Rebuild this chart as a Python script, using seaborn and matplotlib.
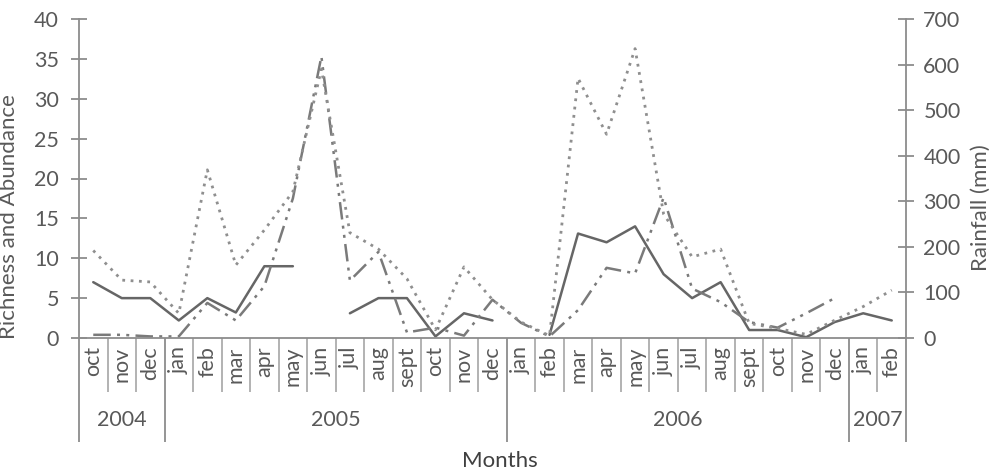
import numpy as np
import pandas as pd
import matplotlib
matplotlib.use("Agg")
import matplotlib.pyplot as plt
import seaborn as sns

# month / year categories (oct 2004 - feb 2007)
months = ["oct", "nov", "dec",
          "jan", "feb", "mar", "apr", "may", "jun", "jul", "aug", "sept", "oct", "nov", "dec",
          "jan", "feb", "mar", "apr", "may", "jun", "jul", "aug", "sept", "oct", "nov", "dec",
          "jan", "feb"]
years = ["2004"] * 3 + ["2005"] * 12 + ["2006"] * 12 + ["2007"] * 2

nan = np.nan
# solid line (left axis)
richness = [7, 5, 5, 2.2, 5, 3.2, 9, 9, nan, 3.1, 5, 5, 0.2, 3.1, 2.2,
            nan, 0.4, 13.1, 12, 14, 8, 5, 7, 1, 1, 0.1, 2, 3.1, 2.2]
# dash-dot line (left axis)
abundance = [0.4, 0.4, 0.2, 0.2, 4.4, 2.2, 6.5, 17.5, 35.3, 7.2, 10.8, 0.7, 1.3, 0.3, 4.8,
             1.9, 0.2, 3.5, 8.8, 8.1, 17.6, 6.2, 4.5, 2.0, 1.3, 3.1, 5.0, nan, nan]
# dotted line (right axis, mm)
rainfall = [192, 127, 123, 54, 369, 160, 237, 321, 590, 231, 195, 130, 18, 156, 84,
            35, 5, 570, 447, 635, 272, 178, 195, 32, 21, 8, 39, 69, 105]

TXT = "#595959"
AXC = "#8c8c8c"
FS = 15.5

sns.set_theme(style="white")
plt.rcParams["font.family"] = ["Lato", "DejaVu Sans"]


def segments(vals):
    s = pd.Series(vals, dtype=float)
    seg = s.isna().cumsum()
    return pd.DataFrame({"pos": np.arange(len(s)), "val": s, "seg": seg}).dropna()


fig = plt.figure(figsize=(10.02, 4.72), dpi=100)
ax = fig.add_axes([79 / 1002, 134 / 472, 827 / 1002, 319 / 472])
ax2 = ax.twinx()

sns.lineplot(data=segments(richness), x="pos", y="val", units="seg", estimator=None,
             ax=ax, color="#666666", linewidth=1.8, linestyle="-")
sns.lineplot(data=segments(abundance), x="pos", y="val", units="seg", estimator=None,
             ax=ax, color="#7a7a7a", linewidth=1.8, linestyle=(0, (7, 2.5, 1.2, 2.5, 1.2, 2.5)))
sns.lineplot(data=segments(rainfall), x="pos", y="val", units="seg", estimator=None,
             ax=ax2, color="#8f8f8f", linewidth=2.0, linestyle=(0, (1, 2)))

n = len(months)
ax.set_xlim(-0.5, n - 0.5)
ax.set_ylim(0, 40)
ax2.set_ylim(0, 700)
ax.set_yticks(np.arange(0, 41, 5))
ax2.set_yticks(np.arange(0, 701, 100))

for a in (ax, ax2):
    for side in ["top", "bottom", "left", "right"]:
        a.spines[side].set_visible(False)

ax.spines["left"].set_visible(True)
ax.spines["bottom"].set_visible(True)
ax2.spines["right"].set_visible(True)
for sp in (ax.spines["left"], ax.spines["bottom"], ax2.spines["right"]):
    sp.set_color(AXC)
    sp.set_linewidth(1.3)

ax.tick_params(axis="y", direction="inout", length=11, width=1.3, color=AXC,
               labelsize=FS, labelcolor=TXT, pad=9, left=True)
ax2.tick_params(axis="y", direction="inout", length=11, width=1.3, color=AXC,
                labelsize=FS, labelcolor=TXT, pad=7, right=True)

ax.set_xticks(np.arange(n))
ax.set_xticklabels(months, rotation=90, fontsize=FS, color=TXT)
ax.tick_params(axis="x", length=0, pad=6)

ax.set_xlabel("")
ax.set_ylabel("Richness and Abundance", fontsize=16, color=TXT)
ax.yaxis.set_label_coords(-0.073, 0.38)
ax2.set_ylabel("Rainfall (mm)", fontsize=16, color=TXT)
ax2.yaxis.set_label_coords(1.079, 0.41)

# month separators and year brackets below the axis
bounds = np.arange(n + 1) - 0.5
year_starts = [0] + [i for i in range(1, n) if years[i] != years[i - 1]] + [n]
trans = ax.get_xaxis_transform()
month_b = [b for i, b in enumerate(bounds) if i not in year_starts]
ax.vlines(month_b, -54 / 319, 0, transform=trans, clip_on=False, color="#a6a6a6", linewidth=1.2)
ax.vlines([bounds[i] for i in year_starts], -104 / 319, 0, transform=trans, clip_on=False,
          color="#8c8c8c", linewidth=1.3)
for a, b in zip(year_starts[:-1], year_starts[1:]):
    ax.text((a + b - 1) / 2, -82 / 319, years[a], transform=trans, ha="center", va="center",
            fontsize=FS, color=TXT)

fig.text(500 / 1002, 1 / 472, "Months", ha="center", va="bottom", fontsize=16, color="#404040")

fig.savefig("out.png", dpi=100)
